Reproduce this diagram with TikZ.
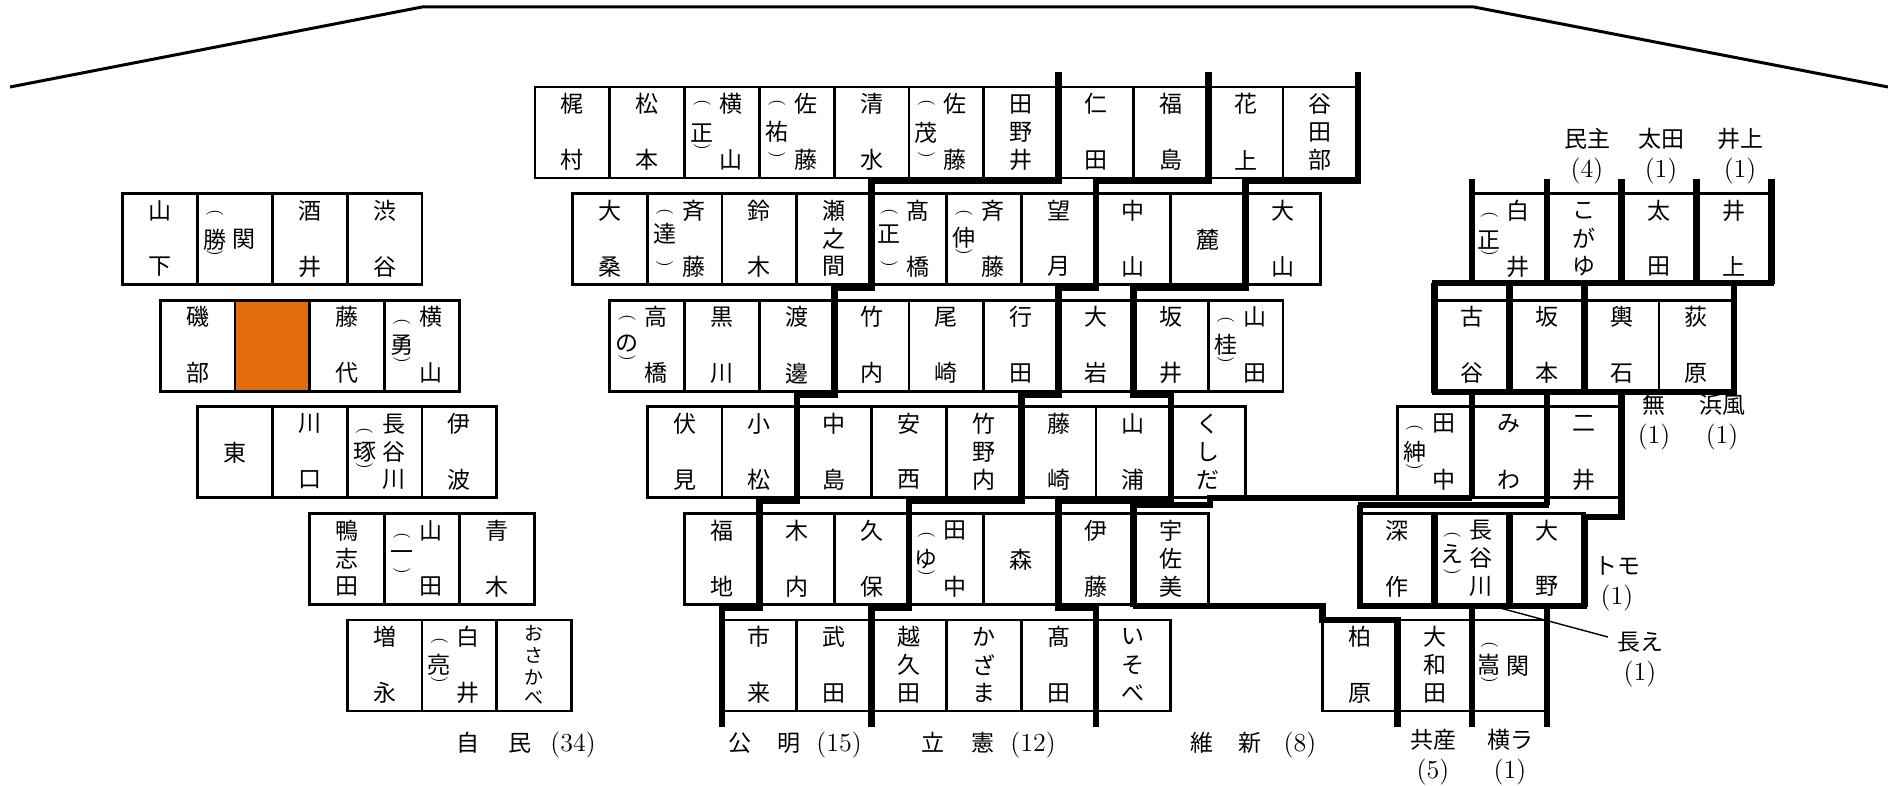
\documentclass[tikz,border=0pt]{standalone}
\usepackage{fontspec}
\newfontfamily\cjk{Noto Sans CJK JP}
\usetikzlibrary{calc}
\definecolor{seatorange}{RGB}{227,108,10}
\newcommand\J[1]{{\cjk\fontsize{11.5}{15}\selectfont #1}}
\newcommand\seat[3]{\node[seat] (#1) at (#2,#3) {};}
\newcommand\Two[3]{\node[ch] (#1a) at ($(#1.north)+(0,17)$) {#2};\node[ch] (#1b) at ($(#1.north)+(0,73)$) {#3};}
\newcommand\Three[4]{\node[ch] (#1a) at ($(#1.north)+(0,17)$) {#2};\node[ch] (#1b) at ($(#1.north)+(0,45)$) {#3};\node[ch] (#1c) at ($(#1.north)+(0,73)$) {#4};}
\newcommand\One[2]{\node[ch] (#1a) at ($(#1.north)+(0,46)$) {#2};}
\newcommand\Lcol[5]{\node[par] (#1o) at ($(#1.north)+(-20,#3)$) {(};\node[ch] (#1q) at ($(#1.north)+(-20,#4)$) {#2};\node[par] (#1e) at ($(#1.north)+(-20,#5)$) {)};}
\newcommand\Qual[7]{\node[ch] (#1a) at ($(#1.north)+(9,17)$) {#2};\node[ch] (#1b) at ($(#1.north)+(9,73)$) {#3};\Lcol{#1}{#4}{#5}{#6}{#7}}
\newcommand\QualOne[6]{\node[ch] (#1a) at ($(#1.north)+(9,46)$) {#2};\Lcol{#1}{#3}{#4}{#5}{#6}}
\newcommand\QualThree[8]{\node[ch] (#1a) at ($(#1.north)+(9,17)$) {#2};\node[ch] (#1b) at ($(#1.north)+(9,45)$) {#3};\node[ch] (#1c) at ($(#1.north)+(9,73)$) {#4};\Lcol{#1}{#5}{#6}{#7}{#8}}
\begin{document}
\begin{tikzpicture}[x=0.5pt,y=-0.5pt,
  seat/.style={draw, line width=1.4pt, anchor=north west, minimum width=37.4pt, minimum height=45.5pt, inner sep=0pt, outer sep=0pt},
  ch/.style={font=\cjk\fontsize{11.5}{12}\selectfont, inner sep=0pt},
  smallch/.style={font=\cjk\fontsize{9.5}{10}\selectfont, inner sep=0pt},
  par/.style={rotate=-90, font=\fontsize{8.5}{8.5}\selectfont, inner sep=0pt},
  lbl/.style={font=\fontsize{13}{15}\selectfont, align=center, inner sep=0pt},
  bnd/.style={line width=3.3pt, line join=miter},
  roof/.style={line width=1.5pt, line join=miter},
  lead/.style={line width=0.7pt}]
\useasboundingbox (0,0) rectangle (1888,786);
% roof
\coordinate (rf1) at (10,87); \coordinate (rf2) at (422,7); \coordinate (rf3) at (1474,7); \coordinate (rf4) at (1888,87);
\draw[roof] (rf1) -- (rf2) -- (rf3) -- (rf4);
% ---------- center block ----------
\seat{m1k0}{535.0}{87}\Two{m1k0}{梶}{村}
\seat{m1k1}{609.8}{87}\Two{m1k1}{松}{本}
\seat{m1k2}{684.6}{87}\Qual{m1k2}{横}{山}{正}{16}{46}{60}
\seat{m1k3}{759.4}{87}\Qual{m1k3}{佐}{藤}{祐}{16}{45}{68}
\seat{m1k4}{834.2}{87}\Two{m1k4}{清}{水}
\seat{m1k5}{909.0}{87}\Qual{m1k5}{佐}{藤}{茂}{16}{46}{68}
\seat{m1k6}{983.8}{87}\Three{m1k6}{田}{野}{井}
\seat{m1k7}{1058.6}{87}\Two{m1k7}{仁}{田}
\seat{m1k8}{1133.4}{87}\Two{m1k8}{福}{島}
\seat{m1k9}{1208.2}{87}\Two{m1k9}{花}{上}
\seat{m1k10}{1283.0}{87}\Three{m1k10}{谷}{田}{部}
%
\seat{m2k0}{572.4}{193.6}\Two{m2k0}{大}{桑}
\seat{m2k1}{647.2}{193.6}\Qual{m2k1}{斉}{藤}{達}{18}{40}{70}
\seat{m2k2}{722.0}{193.6}\Two{m2k2}{鈴}{木}
\seat{m2k3}{796.8}{193.6}\Three{m2k3}{瀬}{之}{間}
\seat{m2k4}{871.6}{193.6}\Qual{m2k4}{髙}{橋}{正}{18}{40}{70}
\seat{m2k5}{946.4}{193.6}\Qual{m2k5}{斉}{藤}{伸}{19}{44}{58}
\seat{m2k6}{1021.2}{193.6}\Two{m2k6}{望}{月}
\seat{m2k7}{1096.0}{193.6}\Two{m2k7}{中}{山}
\seat{m2k8}{1170.8}{193.6}\One{m2k8}{麓}
\seat{m2k9}{1245.6}{193.6}\Two{m2k9}{大}{山}
%
\seat{m3k0}{609.8}{300.2}\Qual{m3k0}{高}{橋}{の}{18}{43}{58}
\seat{m3k1}{684.6}{300.2}\Two{m3k1}{黒}{川}
\seat{m3k2}{759.4}{300.2}\Two{m3k2}{渡}{邊}
\seat{m3k3}{834.2}{300.2}\Two{m3k3}{竹}{内}
\seat{m3k4}{909.0}{300.2}\Two{m3k4}{尾}{崎}
\seat{m3k5}{983.8}{300.2}\Two{m3k5}{行}{田}
\seat{m3k6}{1058.6}{300.2}\Two{m3k6}{大}{岩}
\seat{m3k7}{1133.4}{300.2}\Two{m3k7}{坂}{井}
\seat{m3k8}{1208.2}{300.2}\Qual{m3k8}{山}{田}{桂}{20}{45}{60}
%
\seat{m4k0}{647.2}{406.8}\Two{m4k0}{伏}{見}
\seat{m4k1}{722.0}{406.8}\Two{m4k1}{小}{松}
\seat{m4k2}{796.8}{406.8}\Two{m4k2}{中}{島}
\seat{m4k3}{871.6}{406.8}\Two{m4k3}{安}{西}
\seat{m4k4}{946.4}{406.8}\Three{m4k4}{竹}{野}{内}
\seat{m4k5}{1021.2}{406.8}\Two{m4k5}{藤}{崎}
\seat{m4k6}{1096.0}{406.8}\Two{m4k6}{山}{浦}
\seat{m4k7}{1170.8}{406.8}\Three{m4k7}{く}{し}{だ}
%
\seat{m5k0}{684.6}{513.4}\Two{m5k0}{福}{地}
\seat{m5k1}{759.4}{513.4}\Two{m5k1}{木}{内}
\seat{m5k2}{834.2}{513.4}\Two{m5k2}{久}{保}
\seat{m5k3}{909.0}{513.4}\Qual{m5k3}{田}{中}{ゆ}{21}{46}{59}
\seat{m5k4}{983.8}{513.4}\One{m5k4}{森}
\seat{m5k5}{1058.6}{513.4}\Two{m5k5}{伊}{藤}
\seat{m5k6}{1133.4}{513.4}\Three{m5k6}{宇}{佐}{美}
%
\seat{m6k0}{722.0}{620}\Two{m6k0}{市}{来}
\seat{m6k1}{796.8}{620}\Two{m6k1}{武}{田}
\seat{m6k2}{871.6}{620}\Three{m6k2}{越}{久}{田}
\seat{m6k3}{946.4}{620}\Three{m6k3}{か}{ざ}{ま}
\seat{m6k4}{1021.2}{620}\Two{m6k4}{髙}{田}
\seat{m6k5}{1096.0}{620}\Three{m6k5}{い}{そ}{べ}
% ---------- left block ----------
\seat{l1k0}{122.7}{193.6}\Two{l1k0}{山}{下}
\seat{l1k1}{197.5}{193.6}\QualOne{l1k1}{関}{勝}{19}{46}{59}
\seat{l1k2}{272.3}{193.6}\Two{l1k2}{酒}{井}
\seat{l1k3}{347.1}{193.6}\Two{l1k3}{渋}{谷}
%
\seat{l2k0}{160.1}{300.2}\Two{l2k0}{磯}{部}
\node[seat, fill=seatorange] (l2k1) at (234.9,300.2) {};
\seat{l2k2}{309.7}{300.2}\Two{l2k2}{藤}{代}
\seat{l2k3}{384.5}{300.2}\Qual{l2k3}{横}{山}{勇}{22}{45}{60}
%
\seat{l3k0}{197.5}{406.8}\One{l3k0}{東}
\seat{l3k1}{272.3}{406.8}\Two{l3k1}{川}{口}
\seat{l3k2}{347.1}{406.8}\QualThree{l3k2}{長}{谷}{川}{琢}{24}{45}{59}
\seat{l3k3}{421.9}{406.8}\Two{l3k3}{伊}{波}
%
\seat{l4k0}{309.7}{513.4}\Three{l4k0}{鴨}{志}{田}
\seat{l4k1}{384.5}{513.4}\Qual{l4k1}{山}{田}{一}{22}{42}{57}
\seat{l4k2}{459.3}{513.4}\Two{l4k2}{青}{木}
%
\seat{l5k0}{347.1}{620}\Two{l5k0}{増}{永}
\seat{l5k1}{421.9}{620}\Qual{l5k1}{白}{井}{亮}{21}{45}{60}
\seat{l5k2}{496.7}{620}
\node[smallch] (l5k2a) at ($(l5k2.north)+(0,13)$) {お};
\node[smallch] (l5k2b) at ($(l5k2.north)+(0,35)$) {さ};
\node[smallch] (l5k2c) at ($(l5k2.north)+(0,57)$) {か};
\node[smallch] (l5k2d) at ($(l5k2.north)+(0,78)$) {べ};
% ---------- right block ----------
\seat{r1k0}{1472.0}{193.6}\Qual{r1k0}{白}{井}{正}{21}{46}{59}
\seat{r1k1}{1546.8}{193.6}\Three{r1k1}{こ}{が}{ゆ}
\seat{r1k2}{1621.6}{193.6}\Two{r1k2}{太}{田}
\seat{r1k3}{1696.4}{193.6}\Two{r1k3}{井}{上}
%
\seat{r2k0}{1434.6}{300.2}\Two{r2k0}{古}{谷}
\seat{r2k1}{1509.4}{300.2}\Two{r2k1}{坂}{本}
\seat{r2k2}{1584.2}{300.2}\Two{r2k2}{輿}{石}
\seat{r2k3}{1659.0}{300.2}\Two{r2k3}{荻}{原}
%
\seat{r3k0}{1397.2}{406.8}\Qual{r3k0}{田}{中}{紳}{21}{45}{60}
\seat{r3k1}{1472.0}{406.8}\Two{r3k1}{み}{わ}
\seat{r3k2}{1546.8}{406.8}\Two{r3k2}{二}{井}
%
\seat{r4k0}{1359.8}{513.4}\Two{r4k0}{深}{作}
\seat{r4k1}{1434.6}{513.4}\QualThree{r4k1}{長}{谷}{川}{え}{21}{41}{58}
\seat{r4k2}{1509.4}{513.4}\Two{r4k2}{大}{野}
%
\seat{r5k0}{1322.4}{620}\Two{r5k0}{柏}{原}
\seat{r5k1}{1397.2}{620}\Three{r5k1}{大}{和}{田}
\seat{r5k2}{1472.0}{620}\QualOne{r5k2}{関}{嵩}{25}{45}{60}
% ---------- party boundaries ----------
\draw[bnd] (1058.6,72) -- (1058.6,181) -- (871.6,181) -- (871.6,287.6) -- (834.2,287.6) -- (834.2,394.2) -- (796.8,394.2) -- (796.8,500.8) -- (759.4,500.8) -- (759.4,607.4) -- (722,607.4) -- (722,727);
\draw[bnd] (1208.2,72) -- (1208.2,181) -- (1096,181) -- (1096,287.6) -- (1058.6,287.6) -- (1058.6,394.2) -- (1021.2,394.2) -- (1021.2,500.8) -- (909,500.8) -- (909,607.4) -- (871.6,607.4) -- (871.6,727);
\draw[bnd] (1357.8,72) -- (1357.8,181) -- (1245.6,181) -- (1245.6,287.6) -- (1133.4,287.6) -- (1133.4,394.2) -- (1170.8,394.2) -- (1170.8,500.8) -- (1058.6,500.8) -- (1058.6,607.4) -- (1096,607.4) -- (1096,727);
% right block
\foreach \xx in {1472.0,1546.8,1621.6,1696.4,1771.2} \draw[bnd] (\xx,179) -- (\xx,284);
\draw[bnd] (1431.5,283) -- (1774,283);
\foreach \xx in {1434.6,1509.4,1584.2,1733.8} \draw[bnd] (\xx,283) -- (\xx,393);
\draw[bnd] (1431.5,392) -- (1736.5,392);
\draw[bnd] (1472.0,392) -- (1472.0,498);
\draw[bnd] (1546.8,392) -- (1546.8,505);
\draw[bnd] (1621.6,392) -- (1621.6,517) -- (1584.2,517);
\draw[bnd] (1133.4,607.4) -- (1133.4,505) -- (1210,505) -- (1210,498) -- (1472,498);
\draw[bnd] (1358,505) -- (1548.5,505);
\draw[bnd] (1359.8,505) -- (1359.8,606);
\draw[bnd] (1434.6,513.4) -- (1434.6,606);
\draw[bnd] (1509.4,513.4) -- (1509.4,606);
\draw[bnd] (1584.2,515) -- (1584.2,607);
\draw[bnd] (1357,606) -- (1587,606);
\draw[bnd] (1133.4,606) -- (1322.4,606) -- (1322.4,620) -- (1397.2,620) -- (1397.2,727);
\draw[bnd] (1472.0,606) -- (1472.0,727);
\draw[bnd] (1546.8,606) -- (1546.8,727);
% ---------- labels ----------
\node[lbl] (pJimin) at (526.3,745) {\J{自}\hspace{14.5pt}\J{民}\hspace{9.25pt}(34)};
\node[lbl] (pKomei) at (795.3,745) {\J{公}\hspace{13pt}\J{明}\hspace{7.75pt}(15)};
\node[lbl] (pRikken) at (988.8,745) {\J{立}\hspace{13.5pt}\J{憲}\hspace{7.75pt}(12)};
\node[lbl] (pIshin) at (1253.5,745) {\J{維}\hspace{12.5pt}\J{新}\hspace{11pt}(8)};
\node[lbl] (pMinshu) at (1587,156) {\J{民主}\\(4)};
\node[lbl] (pOta) at (1661,156) {\J{太田}\\(1)};
\node[lbl] (pInoue) at (1740,156) {\J{井上}\\(1)};
\node[lbl] (pMu) at (1654,422) {\J{無}\\(1)};
\node[lbl] (pHama) at (1722,422) {\J{浜風}\\(1)};
\node[lbl] (pTomo) at (1617,584) {\J{トモ}\\(1)};
\node[lbl] (pChoe) at (1640,660) {\J{長え}\\(1)};
\node[lbl] (pKyosan) at (1433,757) {\J{共産}\\(5)};
\node[lbl] (pYokora) at (1510,757) {\J{横ラ}\\(1)};
\coordinate (leadS) at (1500,608);
\coordinate (leadE) at (1608,637);
\draw[lead] (leadS) -- (leadE);
\end{tikzpicture}
\end{document}
